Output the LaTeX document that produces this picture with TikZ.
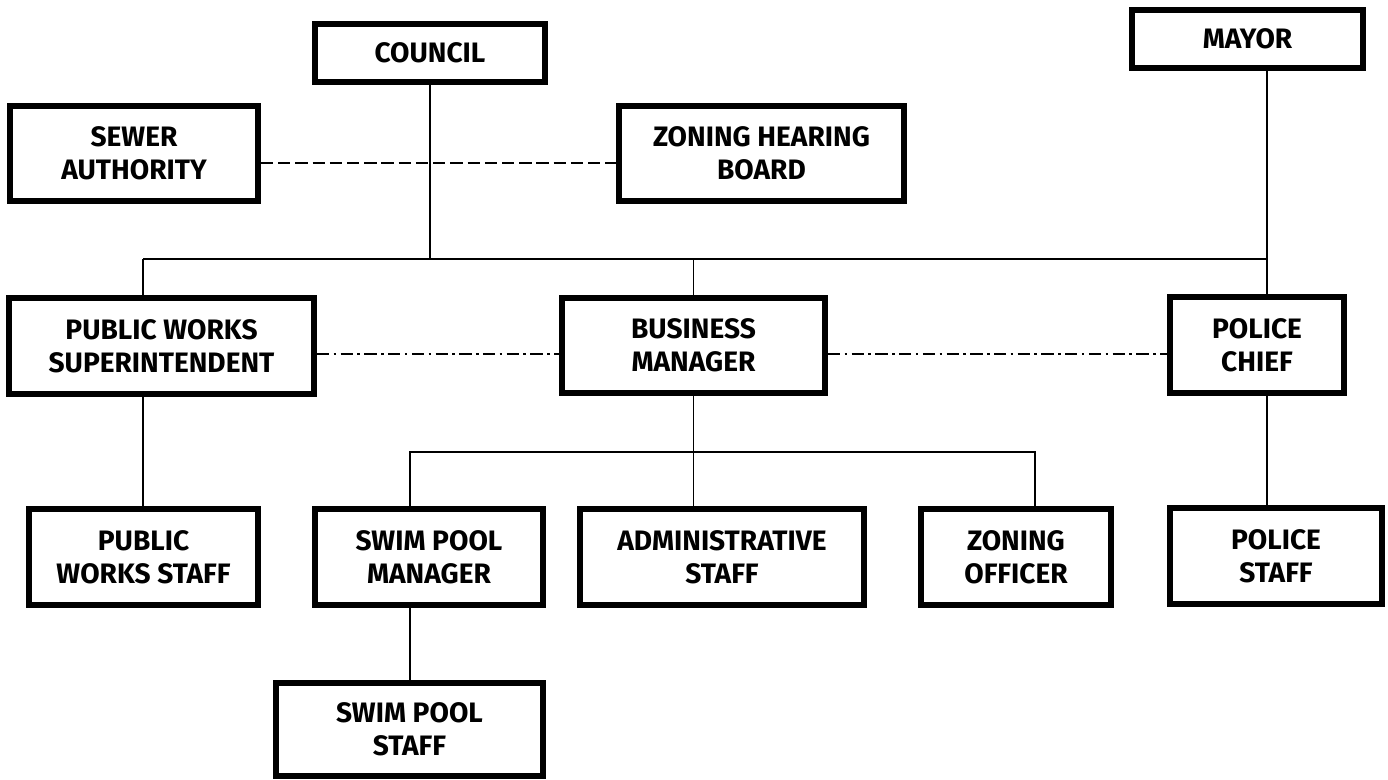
\documentclass[tikz,border=0pt]{standalone}
\usepackage{fontspec}
\setmainfont{Fira Sans}
\usepackage{tikz}
\usetikzlibrary{positioning}

\begin{document}
\begin{tikzpicture}[
    x=0.02cm, y=-0.02cm,
    unit/.style={draw, line width=3.4pt, inner sep=0pt, align=center, fill=white,
        minimum height=1.92cm, font=\bfseries\fontsize{16}{19}\selectfont},
    link/.style={line width=1.1pt},
    peer/.style={line width=1.1pt, dash pattern=on 7pt off 2.8pt},
    peerdot/.style={line width=1.1pt, dash pattern=on 7pt off 2.5pt on 1.5pt off 2.5pt}
]
    \useasboundingbox (0,0) rectangle (1388,780);

    % Top level
    \node[unit, minimum width=4.60cm, minimum height=1.16cm] (council) at (430,53) {COUNCIL};
    \node[unit, minimum width=4.62cm, minimum height=1.16cm] (mayor) at (1247.5,39) {MAYOR};
    \node[unit, minimum width=4.96cm, minimum height=1.90cm] (sewer) at (134,153.5) {SEWER\\AUTHORITY};
    \node[unit, minimum width=5.70cm, minimum height=1.90cm] (zhb) at (761.5,153.5) {ZONING HEARING\\BOARD};

    % Department heads
    \node[unit, minimum width=6.10cm] (pws) at (161.5,346) {PUBLIC WORKS\\SUPERINTENDENT};
    \node[unit, minimum width=5.26cm, minimum height=1.90cm] (bm) at (693.5,345.5) {BUSINESS\\MANAGER};
    \node[unit, minimum width=3.48cm] (chief) at (1257,345) {POLICE\\CHIEF};

    % Staff
    \node[unit, minimum width=4.58cm] (pwstaff) at (143.5,557) {PUBLIC\\WORKS STAFF};
    \node[unit, minimum width=4.56cm] (spm) at (429,557) {SWIM POOL\\MANAGER};
    \node[unit, minimum width=5.68cm] (admin) at (722,557) {ADMINISTRATIVE\\STAFF};
    \node[unit, minimum width=3.80cm] (zo) at (1016,557) {ZONING\\OFFICER};
    \node[unit, minimum width=4.24cm] (pstaff) at (1276,556) {POLICE\\STAFF};
    \node[unit, minimum width=5.34cm, minimum height=1.86cm] (spstaff) at (409.5,729.5) {SWIM POOL\\STAFF};

    % Buses
    \coordinate (busL) at (143,259);
    \coordinate (busR) at (1267,259);
    \coordinate (subL) at (410,452);
    \coordinate (subR) at (1035,452);
    \coordinate (dashy) at (0,163);
    \coordinate (dotty) at (0,354);

    % Solid reporting lines
    \draw[link] (council.south) -- (council.south |- busL);
    \draw[link] (busL) -- (busR);
    \draw[link] (mayor.south -| busR) -- (chief.north -| busR);
    \draw[link] (busL) -- (pws.north -| busL);
    \draw[link] (pws.south -| busL) -- (pwstaff.north -| busL);
    \draw[link] (bm.north) -- (bm.north |- busL);
    \draw[link] (bm.south) -- (admin.north -| bm.south);
    \draw[link] (spm.north -| subL) -- (subL) -- (subR) -- (zo.north -| subR);
    \draw[link] (spm.south -| subL) -- (spstaff.north -| subL);
    \draw[link] (chief.south -| busR) -- (pstaff.north -| busR);

    % Advisory lines
    \draw[peer] (sewer.east |- dashy) -- (zhb.west |- dashy);
    \draw[peerdot] (pws.east |- dotty) -- (bm.west |- dotty);
    \draw[peerdot] (bm.east |- dotty) -- (chief.west |- dotty);
\end{tikzpicture}
\end{document}
